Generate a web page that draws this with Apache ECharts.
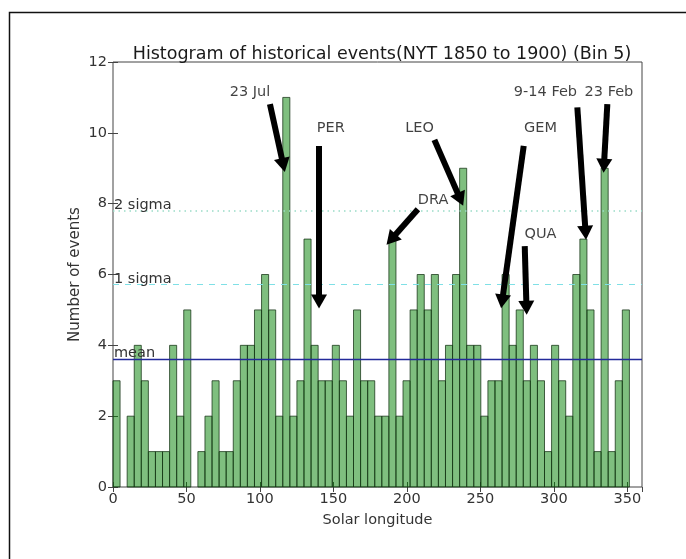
<!DOCTYPE html>
<html>
<head>
<meta charset="utf-8">
<script src="https://cdn.jsdelivr.net/npm/echarts@6/dist/echarts.min.js"></script>
<style>
html,body{margin:0;padding:0;background:#fff;}
#chart{width:686px;height:559px;}
</style>
</head>
<body>
<div id="chart"></div>
<script>
// ---- data ----
const titleText = 'Histogram of historical events(NYT 1850 to 1900) (Bin 5)';
const xAxisName = 'Solar longitude';
const yAxisName = 'Number of events';
const binStart = 0;
const binWidth = 4.814;
const counts = [3,0,2,4,3,1,1,1,4,2,5,0,1,2,3,1,1,3,4,4,5,6,5,2,11,2,3,
  7,4,3,3,4,3,2,5,3,3,2,2,7,2,3,5,6,5,6,3,4,6,9,4,4,
  2,3,3,6,4,5,3,4,3,1,4,3,2,6,7,5,1,9,1,3,5];
const refLabels = ['mean', '1 sigma', '2 sigma'];
const refValues = [3.62, 5.72, 7.8];
const annLabels = ['23 Jul', 'PER', 'LEO', 'DRA', 'GEM', 'QUA', '9-14 Feb', '23 Feb'];
const annText = [[93.2, 11.14], [148.2, 10.13], [208.6, 10.13], [217.8, 8.10], [290.9, 10.13], [290.9, 7.15], [294.3, 11.14], [337.5, 11.14]];
const annFrom = [[106.8, 10.81], [140.2, 9.63], [218.7, 9.80], [207.5, 7.84], [279.5, 9.63], [280.2, 6.80], [316.0, 10.72], [336.4, 10.81]];
const annTo = [[115.9, 9.09], [140.2, 5.24], [236.4, 8.12], [189.3, 6.99], [264.8, 5.24], [281.4, 5.06], [321.6, 7.18], [334.1, 9.07]];

const font = 'DejaVu Sans';
const chart = echarts.init(document.getElementById('chart'), null, {renderer: 'canvas'});

const binData = counts.map((c, i) => [binStart + i * binWidth, c, binStart + (i + 1) * binWidth]);

const refStyles = [
  {color: '#232a9a', type: 'solid', width: 1.3},
  {color: '#7fe0e6', type: [6, 6], width: 1.2},
  {color: '#9adcc8', type: [1.5, 4], width: 1.6}
];

const option = {
  animation: false,
  backgroundColor: '#fff',
  title: {
    text: titleText,
    left: 377, textAlign: 'center', top: 40,
    textStyle: {fontFamily: font, fontSize: 17.5, fontWeight: 'normal', color: '#1a1a1a'}
  },
  grid: {left: 113, top: 62, right: 44, bottom: 72, show: true, borderColor: '#444', borderWidth: 1, backgroundColor: 'transparent'},
  xAxis: [{
    type: 'value', min: 0, max: 360, interval: 50,
    name: xAxisName, nameLocation: 'middle', nameGap: 26,
    nameTextStyle: {fontFamily: font, fontSize: 14.5, color: '#333'},
    axisLine: {show: false},
    axisTick: {show: true, inside: true, length: 5, lineStyle: {color: '#444'}},
    axisLabel: {fontFamily: font, fontSize: 14.5, color: '#333', margin: 5, showMaxLabel: false},
    splitLine: {show: false}
  }, {
    type: 'value', min: 0, max: 360, interval: 50, position: 'top',
    axisLine: {show: false},
    axisTick: {show: true, inside: true, length: 5, lineStyle: {color: '#444'}},
    axisLabel: {show: false}, splitLine: {show: false}
  }],
  yAxis: [{
    type: 'value', min: 0, max: 12, interval: 2,
    name: yAxisName, nameLocation: 'middle', nameGap: 30, nameRotate: 90,
    nameMoveOverlap: false,
    nameTextStyle: {fontFamily: font, fontSize: 15, color: '#333'},
    axisLine: {show: false},
    axisTick: {show: true, inside: true, length: 5, lineStyle: {color: '#444'}},
    axisLabel: {fontFamily: font, fontSize: 14.5, color: '#333', margin: 6},
    splitLine: {show: false}
  }, {
    type: 'value', min: 0, max: 12, interval: 2, position: 'right',
    axisLine: {show: false},
    axisTick: {show: true, inside: true, length: 5, lineStyle: {color: '#444'}},
    axisLabel: {show: false}, splitLine: {show: false}
  }],
  graphic: [{
    type: 'rect', left: 7, top: 10, z: 100,
    shape: {x: 0, y: 0, width: 720, height: 600},
    style: {fill: 'none', stroke: '#111', lineWidth: 1.5}
  }],
  series: [{
    type: 'custom',
    data: binData,
    encode: {x: [0, 2], y: 1},
    renderItem: function (params, api) {
      const v = api.value(1);
      if (!v) return null;
      const p0 = api.coord([api.value(0), 0]);
      const p1 = api.coord([api.value(2), v]);
      return {
        type: 'rect',
        shape: {x: p0[0], y: p1[1], width: p1[0] - p0[0], height: p0[1] - p1[1]},
        style: {fill: 'rgba(0,128,0,0.5)', stroke: 'rgba(20,50,20,0.75)', lineWidth: 1}
      };
    },
    z: 2
  }, {
    type: 'line',
    data: [],
    silent: true,
    markLine: {
      silent: true,
      symbol: ['none', 'none'],
      data: refValues.map((v, i) => ({
        yAxis: v,
        lineStyle: refStyles[i],
        label: {
          show: true, formatter: refLabels[i], position: 'insideStartTop', distance: [1, -2],
          fontFamily: font, fontSize: 14.5, color: '#333'
        }
      }))
    },
    z: 3
  }, {
    type: 'scatter',
    data: annText.map((p, i) => ({value: p, name: annLabels[i]})),
    symbolSize: 0,
    silent: true,
    label: {
      show: true, position: 'inside', formatter: '{b}',
      fontFamily: font, fontSize: 14.5, color: '#111'
    },
    markLine: {
      silent: true,
      symbol: ['none', 'triangle'],
      symbolSize: [16, 14],
      lineStyle: {color: '#000', width: 6, type: 'solid'},
      label: {show: false},
      data: annFrom.map((p, i) => [{coord: p}, {coord: annTo[i]}])
    },
    z: 5
  }]
};
chart.setOption(option);
</script>
</body>
</html>
